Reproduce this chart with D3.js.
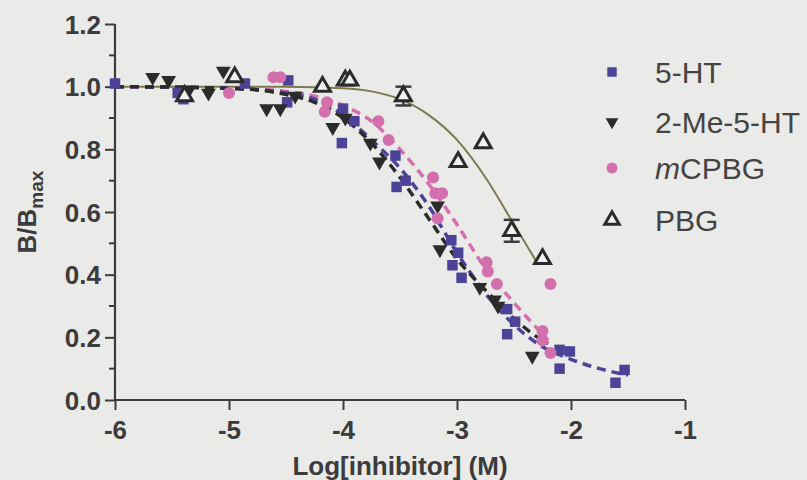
<!DOCTYPE html>
<html>
<head>
<meta charset="utf-8">
<script src="https://cdn.jsdelivr.net/npm/d3@7"></script>
<style>
  body { margin: 0; background: #eaeae8; }
  svg { display: block; font-family: "Liberation Sans", Arial, sans-serif; }
</style>
</head>
<body>
<svg id="chart" width="807" height="480"></svg>
<script>
// measured points [log M, B/Bmax]
const ht5 = [[-6,1.01],[-5.45,0.98],[-5.4,0.96],[-4.86,1.01],[-4.48,1.02],[-4.49,0.95],[-4.0,0.93],
  [-4.01,0.82],[-3.9,0.89],[-3.54,0.78],[-3.53,0.68],[-3.45,0.70],[-3.05,0.51],[-2.99,0.47],
  [-3.04,0.43],[-2.96,0.39],[-2.56,0.29],[-2.49,0.25],[-2.56,0.21],[-2.1,0.16],[-2.01,0.155],
  [-2.1,0.10],[-1.53,0.096],[-1.61,0.055]];
const me5ht = [[-5.67,1.03],[-5.53,1.02],[-5.35,0.99],[-5.18,0.98],[-5.05,1.05],[-4.67,0.93],
  [-4.55,0.93],[-4.42,0.97],[-4.09,0.87],[-3.98,0.90],[-3.76,0.82],[-3.68,0.76],[-3.17,0.62],
  [-3.15,0.48],[-2.8,0.36],[-2.67,0.32],[-2.64,0.30],[-2.34,0.14]];
const mcpbg = [[-5.0,0.98],[-4.61,1.03],[-4.55,1.03],[-4.14,0.95],[-4.16,0.92],[-3.69,0.89],
  [-3.6,0.83],[-3.21,0.71],[-3.19,0.66],[-3.13,0.66],[-3.17,0.58],[-2.74,0.44],[-2.73,0.41],
  [-2.65,0.37],[-2.18,0.37],[-2.25,0.22],[-2.25,0.19],[-2.18,0.15]];
const pbg = [[-5.39,0.97],[-4.95,1.03],[-4.18,1.0],[-3.98,1.02],[-3.94,1.02],[-3.47,0.97],
  [-2.99,0.76],[-2.77,0.82],[-2.52,0.54],[-2.25,0.45]];
const pbgErr = [[-3.47,0.97,0.03],[-2.52,0.54,0.035]];

// fitted curves
const ht5Fit = [[-6,1.0],[-5,0.995],[-4.5,0.98],[-4.25,0.96],[-4,0.91],[-3.75,0.83],[-3.5,0.74],
  [-3.25,0.62],[-3,0.47],[-2.75,0.34],[-2.5,0.24],[-2.25,0.17],[-2,0.13],[-1.75,0.10],[-1.5,0.08]];
const me5htFit = [[-6,1.0],[-5,0.995],[-4.5,0.975],[-4.25,0.95],[-4,0.90],[-3.75,0.82],[-3.5,0.71],
  [-3.25,0.58],[-3,0.45],[-2.75,0.35],[-2.5,0.26],[-2.25,0.19],[-2.2,0.18]];
const mcpbgFit = [[-6,1.0],[-5,0.995],[-4.5,0.985],[-4,0.94],[-3.75,0.89],[-3.5,0.80],[-3.25,0.69],
  [-3,0.56],[-2.75,0.42],[-2.5,0.31],[-2.25,0.21],[-2.2,0.19]];
const pbgFit = [[-6,1.0],[-5,1.0],[-4.5,1.0],[-4,0.995],[-3.75,0.985],[-3.5,0.96],[-3.25,0.91],
  [-3,0.83],[-2.75,0.71],[-2.5,0.56],[-2.3,0.44]];

const xTicks = [-6,-5,-4,-3,-2,-1];
const yTicks = [0,0.2,0.4,0.6,0.8,1.0,1.2];
const seriesNames = ["5-HT","2-Me-5-HT","mCPBG","PBG"];

const svg = d3.select("#chart");
const x = d3.scaleLinear().domain([-6,-1]).range([115,685]);
const y = d3.scaleLinear().domain([0,1.2]).range([400,24]);
const ink = "#3c3c3c";

// y axis
const ya = svg.append("g").attr("transform","translate(115,0)")
  .call(d3.axisLeft(y).tickValues(yTicks).tickFormat(d3.format(".1f")).tickSize(10).tickPadding(4));
// minor ticks
svg.append("g").selectAll("line").data(d3.range(0.1,1.2,0.2)).join("line")
  .attr("x1",109).attr("x2",115).attr("y1",d=>y(d)).attr("y2",d=>y(d))
  .attr("stroke",ink).attr("stroke-width",2);

const xa = svg.append("g").attr("transform","translate(0,400)")
  .call(d3.axisBottom(x).tickValues(xTicks).tickFormat(d3.format("d")).tickSize(10).tickPadding(11));

[ya, xa].forEach(a => {
  a.select(".domain").attr("stroke",ink).attr("stroke-width",2.2);
  a.selectAll(".tick line").attr("stroke",ink).attr("stroke-width",2);
  a.selectAll("text").attr("fill",ink).style("font-size","26px").style("font-weight","bold");
});
ya.select(".domain").attr("d","M0,24V400");
xa.select(".domain").attr("d","M115,0H685");
xa.selectAll("text").text(d => d3.format("d")(d).replace("−","-"));
ya.selectAll("text").attr("dy","0.35em");

// axis titles
svg.append("text").attr("x",400).attr("y",475).attr("text-anchor","middle")
  .attr("fill",ink).style("font-size","26px").style("font-weight","bold").text("Log[inhibitor] (M)");
const yl = svg.append("text").attr("transform","translate(36,212) rotate(-90)")
  .attr("text-anchor","middle").attr("fill",ink).style("font-size","26px").style("font-weight","bold");
yl.append("tspan").text("B/B");
yl.append("tspan").attr("dy",7).style("font-size","19px").text("max");

const line = d3.line().x(d=>x(d[0])).y(d=>y(d[1])).curve(d3.curveMonotoneX);

const cols = { ht5: "#4c4399", me: "#2b2b2b", mc: "#d46fae", pbg: "#7c7a4e" };

// curves
svg.append("path").datum(pbgFit).attr("d",line).attr("fill","none").attr("stroke",cols.pbg).attr("stroke-width",2);
svg.append("path").datum(mcpbgFit).attr("d",line).attr("fill","none").attr("stroke",cols.mc)
  .attr("stroke-width",3.5).attr("stroke-dasharray","9,6");
svg.append("path").datum(ht5Fit).attr("d",line).attr("fill","none").attr("stroke",cols.ht5)
  .attr("stroke-width",3.5).attr("stroke-dasharray","9,6");
svg.append("path").datum(me5htFit).attr("d",line).attr("fill","none").attr("stroke",cols.me)
  .attr("stroke-width",3.5).attr("stroke-dasharray","9,6");

// error bars for PBG
const eb = svg.append("g").attr("stroke",ink).attr("stroke-width",2.5);
pbgErr.forEach(d => {
  eb.append("line").attr("x1",x(d[0])).attr("x2",x(d[0])).attr("y1",y(d[1]+d[2])).attr("y2",y(d[1]-d[2]));
  [d[1]+d[2], d[1]-d[2]].forEach(v => eb.append("line")
    .attr("x1",x(d[0])-8).attr("x2",x(d[0])+8).attr("y1",y(v)).attr("y2",y(v)));
});

const sq = d3.symbol().type(d3.symbolSquare).size(110);
const tri = d3.symbol().type(d3.symbolTriangle).size(95);
const tri2 = d3.symbol().type(d3.symbolTriangle).size(110);

svg.append("g").selectAll("path").data(ht5).join("path")
  .attr("d",sq).attr("transform",d=>`translate(${x(d[0])},${y(d[1])})`).attr("fill",cols.ht5);
svg.append("g").selectAll("path").data(me5ht).join("path")
  .attr("d",tri).attr("transform",d=>`translate(${x(d[0])},${y(d[1])}) rotate(180)`).attr("fill",cols.me);
svg.append("g").selectAll("circle").data(mcpbg).join("circle")
  .attr("cx",d=>x(d[0])).attr("cy",d=>y(d[1])).attr("r",6).attr("fill",cols.mc);
svg.append("g").selectAll("path").data(pbg).join("path")
  .attr("d",tri2).attr("transform",d=>`translate(${x(d[0])},${y(d[1])})`)
  .attr("fill","#f2f2f2").attr("stroke",cols.me).attr("stroke-width",3);

// legend
const lg = svg.append("g");
const rowY = [72,122,168,220];
lg.append("path").attr("d",d3.symbol().type(d3.symbolSquare).size(90)).attr("transform",`translate(612,${rowY[0]})`).attr("fill",cols.ht5);
lg.append("path").attr("d",d3.symbol().type(d3.symbolTriangle).size(70)).attr("transform",`translate(612,${rowY[1]}) rotate(180)`).attr("fill",cols.me);
lg.append("circle").attr("cx",612).attr("cy",rowY[2]).attr("r",5.5).attr("fill",cols.mc);
lg.append("path").attr("d",d3.symbol().type(d3.symbolTriangle).size(90)).attr("transform",`translate(612,${rowY[3]})`)
  .attr("fill","#f2f2f2").attr("stroke",cols.me).attr("stroke-width",3);
seriesNames.forEach((n,i) => {
  const t = lg.append("text").attr("x",655).attr("y",rowY[i]).attr("dy","0.36em")
    .attr("fill","#444").style("font-size","30px");
  if (n === "mCPBG") {
    t.append("tspan").style("font-style","italic").text("m");
    t.append("tspan").text("CPBG");
  } else t.text(n);
});
</script>
</body>
</html>
